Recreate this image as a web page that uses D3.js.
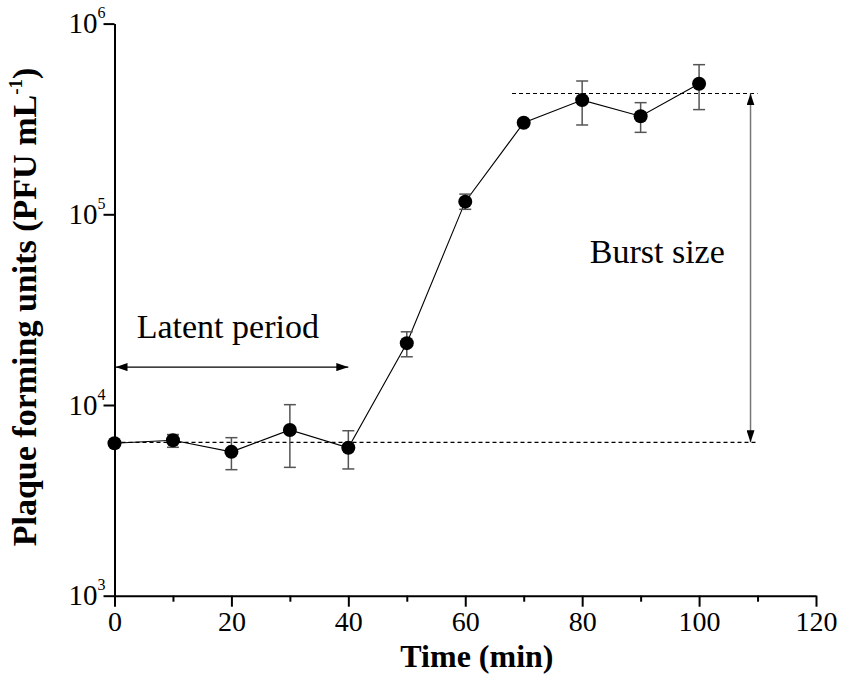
<!DOCTYPE html>
<html><head><meta charset="utf-8">
<script src="https://cdn.jsdelivr.net/npm/d3@7"></script>
<style>body{margin:0;background:#fff}svg{display:block}text{font-family:"Liberation Serif","Times New Roman",serif}</style>
</head><body><svg id="c" width="851" height="693"></svg>
<script>
const times = [0,10,20,30,40,50,60,70,80,90,100];
const pfu   = [6300,6530,5680,7400,5970,21100,116500,302000,397000,327000,484000];
const errLow  = [6150,6000,4580,4710,4620,17900,106200,292000,294000,269000,354000];
const errHigh = [6450,7000,6740,10040,7330,24200,127600,312000,500000,385000,609000];
const xMajorTicks = [0,20,40,60,80,100,120];
const xMinorTicks = [10,30,50,70,90,110];
const yTicks = [1e3,1e4,1e5,1e6];
const yTickExp = ["3","4","5","6"];
const latentRange = [0,40], latentLevel = 15800;
const baseLevel = 6370, baseRange = [0,110];
const plateauLevel = 430000, plateauRange = [68,110];
const burstX = 108.8;

const svg = d3.select("#c");
const x = d3.scaleLinear().domain([0,120]).range([114.5,816]);
const y = d3.scaleLog().domain([1e3,1e6]).range([595.7,23.6]);

const defs = svg.append("defs");
defs.append("marker").attr("id","ah").attr("viewBox","0 0 12 8").attr("refX",12).attr("refY",4)
  .attr("markerWidth",12).attr("markerHeight",8).attr("markerUnits","userSpaceOnUse").attr("orient","auto-start-reverse")
  .append("path").attr("d","M0,0L12,4L0,8Z").attr("fill","#000");

// axes
const xAx = svg.append("g").attr("transform",`translate(0,${y(1e3)})`)
  .call(d3.axisBottom(x).tickValues(xMajorTicks).tickSize(11).tickSizeOuter(0).tickFormat(d3.format("d")));
xAx.select(".domain").attr("stroke-width",2);
xAx.selectAll(".tick line").attr("stroke-width",2);
xAx.selectAll(".tick text").style("font-size","28px").style("font-family","Liberation Serif").attr("dy","0.75em").attr("y",14);
const xMin = svg.append("g").attr("transform",`translate(0,${y(1e3)})`)
  .call(d3.axisBottom(x).tickValues(xMinorTicks).tickSize(6).tickSizeOuter(0).tickFormat(""));
xMin.select(".domain").remove();
xMin.selectAll(".tick line").attr("stroke-width",2);

const yAx = svg.append("g").attr("transform",`translate(${x(0)},0)`)
  .call(d3.axisLeft(y).tickValues(yTicks).tickSize(11).tickSizeOuter(0).tickFormat(""));
yAx.select(".domain").attr("stroke-width",2);
yAx.selectAll(".tick line").attr("stroke-width",2);
yAx.selectAll(".tick").append("text").attr("fill","#000").attr("text-anchor","end")
  .attr("x",-9).attr("y",9).style("font-size","29px").style("font-family","Liberation Serif")
  .each(function(d,i){
    const t = d3.select(this);
    t.append("tspan").text("10");
    t.append("tspan").style("font-size","16px").attr("dy",-15).text(yTickExp[i]);
  });

// axis titles
svg.append("text").attr("x",x(62)).attr("y",667).attr("text-anchor","middle")
  .style("font-size","32px").attr("font-weight","bold").text("Time (min)");
const yl = svg.append("text").attr("transform","translate(36,307) rotate(-90)").attr("text-anchor","middle")
  .style("font-size","34px").attr("font-weight","bold");
yl.append("tspan").text("Plaque forming units (PFU mL");
yl.append("tspan").style("font-size","19px").attr("dy",-14).text("-1");
yl.append("tspan").attr("dy",14).text(")");

// dashed reference lines
svg.append("line").attr("x1",x(baseRange[0])).attr("x2",x(baseRange[1])).attr("y1",y(baseLevel)).attr("y2",y(baseLevel))
  .attr("stroke","#000").attr("stroke-width",1.2).attr("stroke-dasharray","4,3");
svg.append("line").attr("x1",x(plateauRange[0])).attr("x2",x(plateauRange[1])).attr("y1",y(plateauLevel)).attr("y2",y(plateauLevel))
  .attr("stroke","#000").attr("stroke-width",1.2).attr("stroke-dasharray","4,3");

// latent arrow
svg.append("line").attr("x1",x(latentRange[0])+1).attr("x2",x(latentRange[1])).attr("y1",y(latentLevel)).attr("y2",y(latentLevel))
  .attr("stroke","#000").attr("stroke-width",1.3).attr("marker-start","url(#ah)").attr("marker-end","url(#ah)");
// burst arrow
svg.append("line").attr("x1",x(burstX)).attr("x2",x(burstX)).attr("y1",y(plateauLevel)).attr("y2",y(baseLevel))
  .attr("stroke","#777").attr("stroke-width",1.5).attr("marker-start","url(#ah)").attr("marker-end","url(#ah)");

svg.append("text").attr("x",x(3.8)).attr("y",y(22400)).style("font-size","34px").text("Latent period");
svg.append("text").attr("x",x(81.3)).attr("y",y(55300)).style("font-size","34px").text("Burst size");

// data line
svg.append("path").datum(times.map((t,i)=>[t,pfu[i]]))
  .attr("d",d3.line().x(d=>x(d[0])).y(d=>y(d[1])))
  .attr("fill","none").attr("stroke","#000").attr("stroke-width",1.1);

// error bars
const eb = svg.append("g").attr("stroke","#555").attr("stroke-width",1.5);
times.forEach((t,i)=>{
  eb.append("line").attr("x1",x(t)).attr("x2",x(t)).attr("y1",y(errLow[i])).attr("y2",y(errHigh[i]));
  [errLow[i],errHigh[i]].forEach(v=>eb.append("line").attr("x1",x(t)-6).attr("x2",x(t)+6).attr("y1",y(v)).attr("y2",y(v)));
});

// markers
svg.append("g").selectAll("circle").data(times).join("circle")
  .attr("cx",d=>x(d)).attr("cy",(d,i)=>y(pfu[i])).attr("r",7).attr("fill","#000");
</script></body></html>
